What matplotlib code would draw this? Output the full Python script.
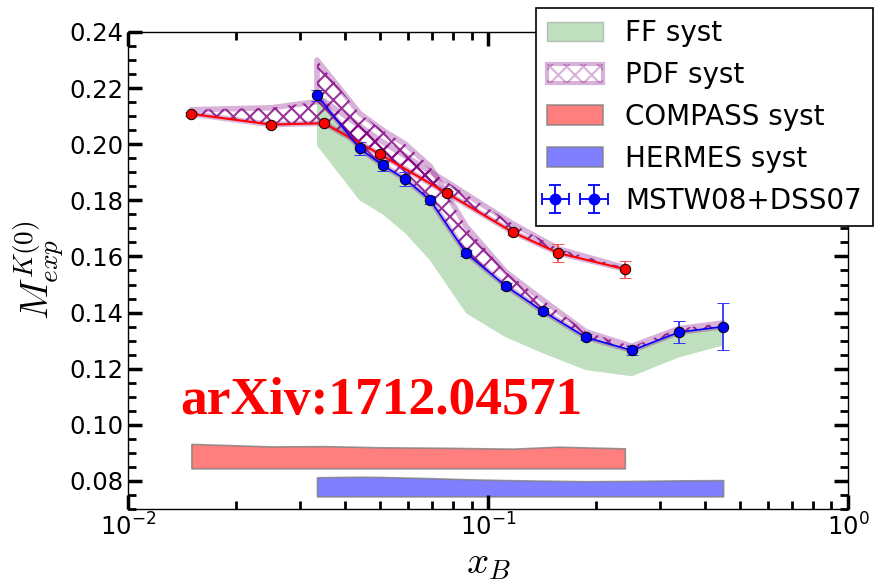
import numpy as np
import matplotlib
matplotlib.use('Agg')
import matplotlib.pyplot as plt
from matplotlib import rcParams
from matplotlib.patches import Patch
from matplotlib.ticker import MultipleLocator

rcParams['font.family'] = 'DejaVu Sans'
rcParams['mathtext.fontset'] = 'cm'
rcParams['hatch.linewidth'] = 1.5

# COMPASS points
compass_x = [0.015, 0.025, 0.035, 0.050, 0.077, 0.117, 0.157, 0.240]
compass_y = [0.2108, 0.2070, 0.2075, 0.1965, 0.1825, 0.1687, 0.1612, 0.1555]
compass_err = [0.0008, 0.0008, 0.0008, 0.0008, 0.0010, 0.0010, 0.0032, 0.0030]
compass_pdf = [0.0015, 0.0060, 0.0080, 0.0050, 0.0040, 0.0030, 0.0015, 0.0005]
compass_syst_hi = [0.0932, 0.0923, 0.0924, 0.0920, 0.0918, 0.0915, 0.0922, 0.0916]
compass_syst_lo = 0.0845

# HERMES points
hermes_x = [0.0335, 0.044, 0.051, 0.059, 0.069, 0.087, 0.112, 0.142, 0.187, 0.251, 0.339, 0.450]
hermes_y = [0.2175, 0.1985, 0.1925, 0.1875, 0.1802, 0.1612, 0.1495, 0.1405, 0.1312, 0.1265, 0.1330, 0.1350]
hermes_err = [0.0020, 0.0023, 0.0020, 0.0025, 0.0015, 0.0010, 0.0010, 0.0010, 0.0010, 0.0017, 0.0039, 0.0084]
hermes_pdf = [0.0125, 0.0125, 0.0125, 0.0125, 0.0120, 0.0095, 0.0050, 0.0040, 0.0020, 0.0015, 0.0013, 0.0013]
hermes_ff_lo = [0.1995, 0.1800, 0.1750, 0.1682, 0.1586, 0.1397, 0.1312, 0.1255, 0.1195, 0.1173, 0.1240, 0.1283]
hermes_syst_hi = [0.0813, 0.0815, 0.0814, 0.0812, 0.0810, 0.0806, 0.0803, 0.0801, 0.0799, 0.0800, 0.0802, 0.0803]
hermes_syst_lo = 0.0745

cx = np.array(compass_x)
cy = np.array(compass_y)
hx = np.array(hermes_x)
hy = np.array(hermes_y)

plum = (0.5, 0.0, 0.5, 0.3)
edge = (0.5, 0.5, 0.5, 0.8)

fig = plt.figure(figsize=(8.79, 5.86), dpi=100)
ax = fig.add_axes([0.1456, 0.1314, 0.8191, 0.8140])

# FF syst
ax.fill_between(hx, hermes_ff_lo, hy, facecolor='green', alpha=0.25, edgecolor='none')

# syst bands at the bottom
ax.fill_between(cx, compass_syst_lo, compass_syst_hi, facecolor=(1, 0, 0, 0.5), edgecolor=edge, lw=1.2)
ax.fill_between(hx, hermes_syst_lo, hermes_syst_hi, facecolor=(0, 0, 1, 0.5), edgecolor=edge, lw=1.2)

# PDF syst (hatched)
for x, y, e in [(cx, cy, compass_pdf), (hx, hy, hermes_pdf)]:
    ax.fill_between(x, y, y + np.array(e), facecolor='none', edgecolor=plum, lw=4)
    ax.fill_between(x, y, y + np.array(e), facecolor='none', edgecolor=(0.5, 0, 0.5, 0.8),
                    lw=0, hatch='xx')

# data points
ax.errorbar(cx, cy, yerr=compass_err, fmt='o-', color='red', lw=1.5, ms=7.5,
            mec='black', mew=0.7, ecolor=(1, 0.3, 0.3), elinewidth=1.3, capsize=4, capthick=1.3)
ax.errorbar(hx, hy, yerr=hermes_err, fmt='o-', color='blue', lw=1.2, ms=7.5,
            mec='black', mew=0.7, ecolor=(0.2, 0.2, 1), elinewidth=1.3, capsize=4, capthick=1.3)

ax.text(0.072, 0.199, 'arXiv:1712.04571', transform=ax.transAxes, color='red',
        fontsize=38.5, fontweight='bold', family='Liberation Serif')

ax.set_xscale('log')
ax.set_xlim(0.01, 1.0)
ax.set_ylim(0.07, 0.24)
ax.yaxis.set_major_locator(MultipleLocator(0.02))
ax.yaxis.set_minor_locator(MultipleLocator(0.005))
ax.set_yticks(np.arange(0.08, 0.241, 0.02))
ax.set_yticklabels(['%.2f' % v for v in np.arange(0.08, 0.241, 0.02)])
ax.tick_params(which='both', direction='in', top=True, right=True, labelsize=17.5)
ax.tick_params(which='major', length=10, width=2.5)
ax.tick_params(which='minor', length=5.5, width=2)
for s in ax.spines.values():
    s.set_linewidth(1.0)

ax.set_xlabel('$x_B$', fontsize=28, labelpad=2)
ax.set_ylabel('$M^{K(0)}_{exp}$', fontsize=28, labelpad=2)

# legend
ff_h = Patch(facecolor=(0, 0.5, 0, 0.25), edgecolor=(0.6, 0.6, 0.6, 0.6), lw=1)
pdf_h = Patch(facecolor='white', edgecolor=plum, hatch='xx', lw=3)
com_h = Patch(facecolor=(1, 0, 0, 0.5), edgecolor=edge, lw=1.2)
her_h = Patch(facecolor=(0, 0, 1, 0.5), edgecolor=edge, lw=1.2)
mstw_h = ax.errorbar([np.nan], [np.nan], xerr=[1], yerr=[1], fmt='o', color='blue', ms=7.5,
                     elinewidth=1.3, capsize=4, capthick=1.3)
leg = fig.legend([ff_h, pdf_h, com_h, her_h, mstw_h],
                 ['FF syst', 'PDF syst', 'COMPASS syst', 'HERMES syst', 'MSTW08+DSS07'],
                 loc='upper left', bbox_to_anchor=(536 / 879, 1 - 8 / 586), borderaxespad=0,
                 fontsize=20, numpoints=2, fancybox=False, framealpha=1, edgecolor='black')
leg.get_frame().set_linewidth(1.2)

plt.savefig('out.png', dpi=100)
